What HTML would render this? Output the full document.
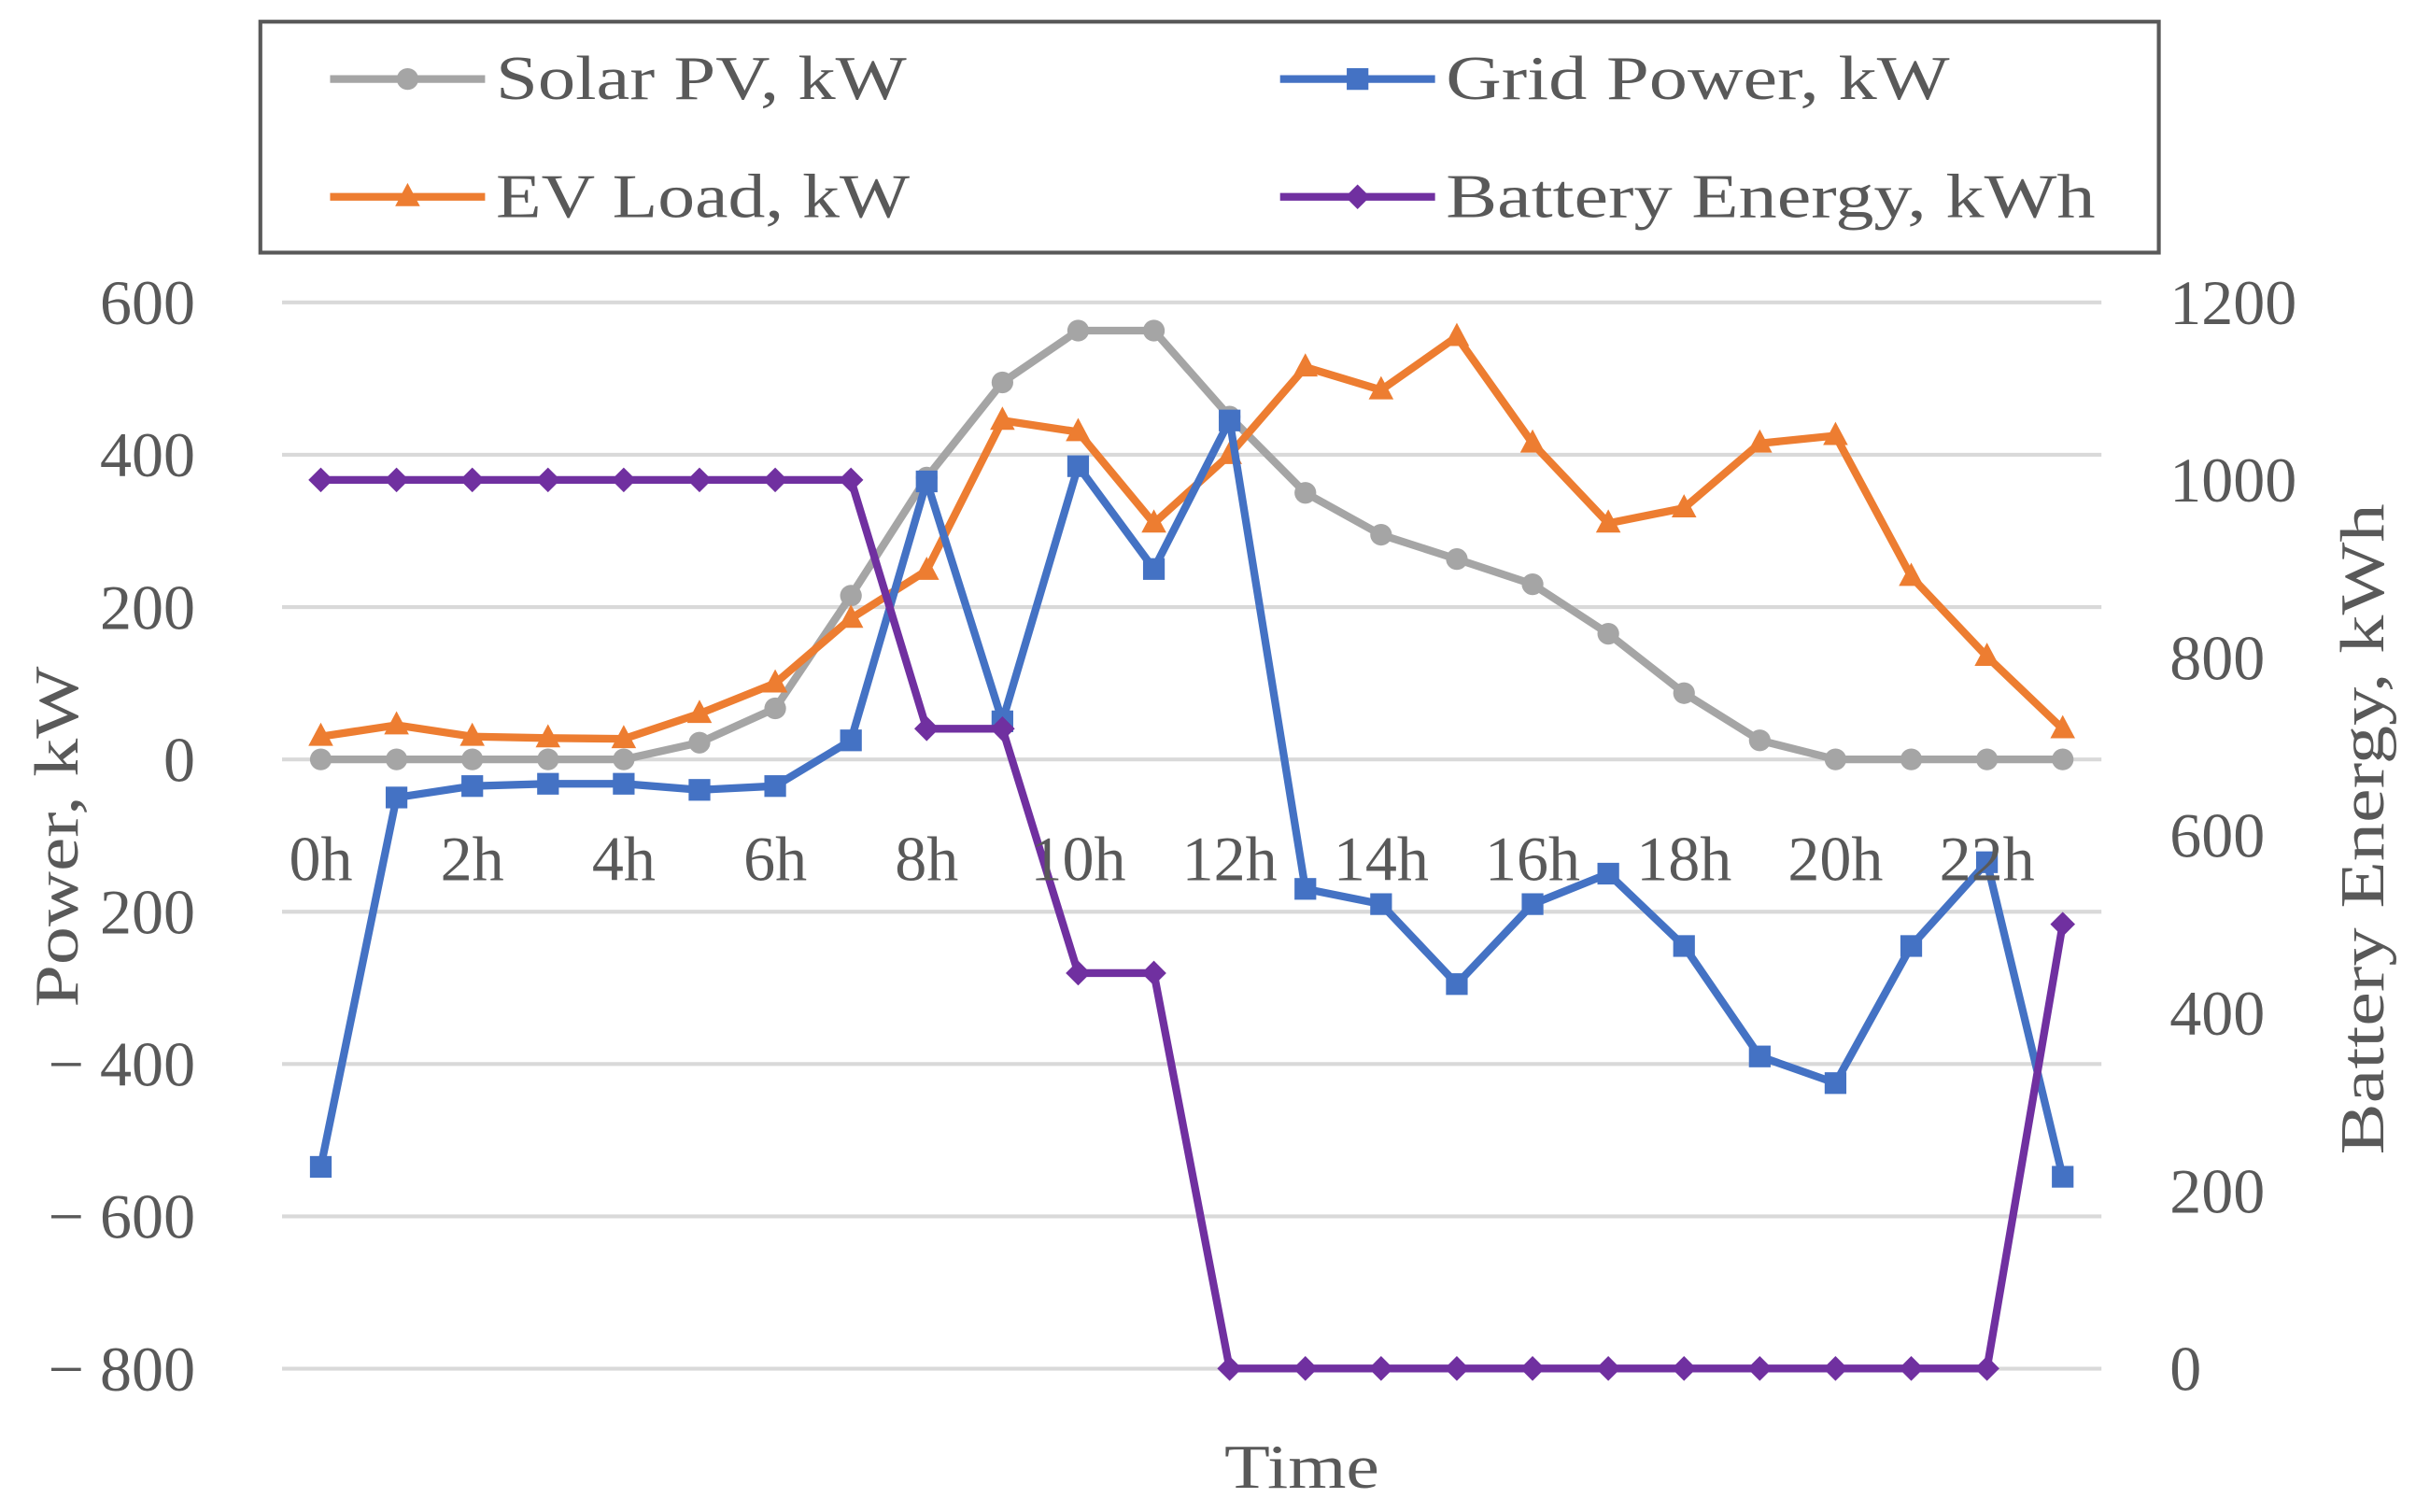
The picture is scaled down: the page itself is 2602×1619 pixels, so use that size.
<!DOCTYPE html>
<html><head><meta charset="utf-8"><style>html,body{margin:0;padding:0;background:#fff}svg{display:block}text{font-family:"Liberation Serif",serif;fill:#595959}</style></head>
<body>
<svg id="chart" width="2602" height="1619" viewBox="0 0 1568 975.6" preserveAspectRatio="none" xmlns="http://www.w3.org/2000/svg">
<g id="grid"></g>
<g id="series"></g>
<g id="labels"></g>
<text transform="translate(50,540) rotate(-90)" text-anchor="middle" font-size="40" textLength="220" lengthAdjust="spacingAndGlyphs">Power, kW</text>
<text transform="translate(1538,535) rotate(-90)" text-anchor="middle" font-size="40" textLength="420" lengthAdjust="spacingAndGlyphs">Battery Energy, kWh</text>
<text x="840" y="960" text-anchor="middle" font-size="40" textLength="100" lengthAdjust="spacingAndGlyphs">Time</text>
<g>
<rect x="168" y="14" width="1225" height="149" fill="#fff" stroke="#595959" stroke-width="2.5"/>
<g><line x1="213" y1="51" x2="313" y2="51" stroke="#A5A5A5" stroke-width="5"/><circle cx="263" cy="51" r="7" fill="#A5A5A5"/><text x="320" y="64" font-size="40" textLength="265" lengthAdjust="spacingAndGlyphs">Solar PV, kW</text></g>
<g><line x1="826" y1="51" x2="926" y2="51" stroke="#4472C4" stroke-width="5"/><rect x="869" y="44" width="14" height="14" fill="#4472C4"/><text x="933" y="64" font-size="40" textLength="325" lengthAdjust="spacingAndGlyphs">Grid Power, kW</text></g>
<g><line x1="213" y1="127" x2="313" y2="127" stroke="#ED7D31" stroke-width="5"/><polygon points="263,118 271,133 255,133" fill="#ED7D31"/><text x="320" y="140" font-size="40" textLength="267" lengthAdjust="spacingAndGlyphs">EV Load, kW</text></g>
<g><line x1="826" y1="127" x2="926" y2="127" stroke="#7030A0" stroke-width="5"/><polygon points="876,119 884,127 876,135 868,127" fill="#7030A0"/><text x="933" y="140" font-size="40" textLength="419" lengthAdjust="spacingAndGlyphs">Battery Energy, kWh</text></g>
</g>
</svg>
<script>
const hours=[0,1,2,3,4,5,6,7,8,9,10,11,12,13,14,15,16,17,18,19,20,21,22,23];
const solar=[0,0,0,0,0,22,67,215,370,495,563,563,450,350,295,263,230,165,87,25,0,0,0,0];
const evLoad=[30,45,30,28,27,60,100,185,248,445,430,310,400,515,485,555,415,310,330,415,425,240,135,40];
const grid=[-535,-50,-35,-32,-32,-40,-35,25,365,50,385,250,445,-170,-190,-295,-190,-150,-245,-390,-425,-245,-135,-548];
const battery=[1000,1000,1000,1000,1000,1000,1000,1000,720,720,445,445,0,0,0,0,0,0,0,0,0,0,0,500];
const leftTicks=[600,400,200,0,-200,-400,-600,-800];
const leftTickLabels=["600","400","200","0","200","\u2212 400","\u2212 600","\u2212 800"];
const rightTicks=[0,200,400,600,800,1000,1200];
const xTickLabels=["0h","2h","4h","6h","8h","10h","12h","14h","16h","18h","20h","22h"];
const NS="http://www.w3.org/2000/svg";
const xS=h=>207+h*(1331-207)/23;
const yL=v=>490-v*0.49143;
const yR=v=>883-v*(688/1200);
function mk(tag,attrs,parent){const e=document.createElementNS(NS,tag);for(const k in attrs)e.setAttribute(k,attrs[k]);parent.appendChild(e);return e;}
const G=document.getElementById('grid'),S=document.getElementById('series'),L=document.getElementById('labels');
leftTicks.forEach((t,i)=>{
 const ln=mk('line',{x1:182,x2:1356,y1:yL(t),y2:yL(t),stroke:'#D9D9D9','stroke-width':2.5},G);
 
 
 const tx=mk('text',{x:126,y:yL(t)+14,'text-anchor':'end','font-size':41},L);tx.textContent=leftTickLabels[i];
 
 
});
rightTicks.forEach(t=>{
 const tx=mk('text',{x:1400,y:yR(t)+14,'font-size':41},L);tx.textContent=t;
 
 
});
xTickLabels.forEach((lab,i)=>{
 const tx=mk('text',{x:xS(i*2),y:568,'text-anchor':'middle','font-size':41},L);tx.textContent=lab;
 
 
});
function series(vals,yf,color,marker,name){
 const g=mk('g',{},S);
 
 
 mk('polyline',{points:vals.map((v,i)=>xS(hours[i])+','+yf(v)).join(' '),fill:'none',stroke:color,'stroke-width':5,'stroke-linejoin':'round'},g);
 vals.forEach((v,i)=>{const x=xS(hours[i]),y=yf(v);let m;
  if(marker==='c')m=mk('circle',{cx:x,cy:y,r:7,fill:color},g);
  else if(marker==='s')m=mk('rect',{x:x-7,y:y-7,width:14,height:14,fill:color},g);
  else if(marker==='t')m=mk('polygon',{points:`${x},${y-9} ${x+8},${y+6} ${x-8},${y+6}`,fill:color},g);
  else m=mk('polygon',{points:`${x},${y-8} ${x+8},${y} ${x},${y+8} ${x-8},${y}`,fill:color},g);
  
  
 });
}
series(solar,yL,'#A5A5A5','c','solar-pv-series');
series(evLoad,yL,'#ED7D31','t','ev-load-series');
series(grid,yL,'#4472C4','s','grid-power-series');
series(battery,yR,'#7030A0','d','battery-energy-series');
</script>
</body></html>
